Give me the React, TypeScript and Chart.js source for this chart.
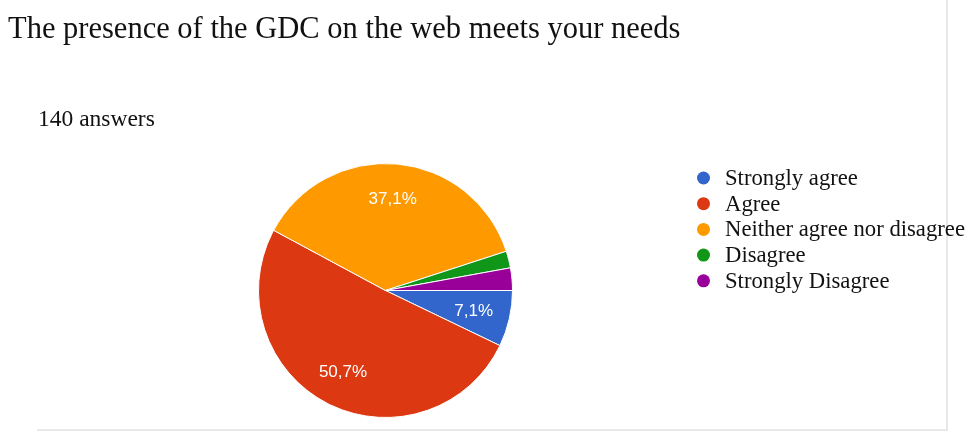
import React, { useEffect, useRef } from "react";
import { Chart, registerables } from "chart.js";

Chart.register(...registerables);

const TITLE = "The presence of the GDC on the web meets your needs";
const SUBTITLE = "140 answers";
const categories = [
  "Strongly agree",
  "Agree",
  "Neither agree nor disagree",
  "Disagree",
  "Strongly Disagree",
];
const counts = [10, 71, 52, 3, 4];
const colors = ["#3366cc", "#dc3912", "#ff9900", "#109618", "#990099"];

const decorPlugin = {
  id: "decor",
  beforeDraw(chart: any) {
    const ctx = chart.ctx;
    ctx.save();
    ctx.fillStyle = "#ffffff";
    ctx.fillRect(0, 0, chart.width, chart.height);
    // frame lines
    ctx.strokeStyle = "#e8e8e8";
    ctx.lineWidth = 2;
    ctx.beginPath();
    ctx.moveTo(947, 0);
    ctx.lineTo(947, 431);
    ctx.moveTo(37, 430);
    ctx.lineTo(948, 430);
    ctx.stroke();
    // title
    ctx.fillStyle = "#111111";
    ctx.textBaseline = "alphabetic";
    ctx.textAlign = "left";
    ctx.font = "30.5px 'Liberation Serif', 'Times New Roman', serif";
    ctx.fillText(TITLE, 8, 38);
    ctx.font = "23.5px 'Liberation Serif', 'Times New Roman', serif";
    ctx.fillText(SUBTITLE, 38, 126);
    ctx.restore();
  },
  afterDraw(chart: any) {
    const ctx = chart.ctx;
    const ds = chart.data.datasets[0];
    const total = ds.data.reduce((a: number, b: number) => a + b, 0);
    const meta = chart.getDatasetMeta(0);
    ctx.save();
    // percentage labels
    ctx.fillStyle = "#ffffff";
    ctx.textAlign = "center";
    ctx.textBaseline = "middle";
    ctx.font = "17px 'Liberation Sans', Arial, sans-serif";
    meta.data.forEach((arc: any, i: number) => {
      const v = ds.data[i];
      const pct = (v / total) * 100;
      if (pct < 5) return;
      const mid = (arc.startAngle + arc.endAngle) / 2;
      const r = arc.outerRadius * 0.72;
      const x = arc.x + Math.cos(mid) * r;
      const y = arc.y + Math.sin(mid) * r;
      ctx.fillText(pct.toFixed(1).replace(".", ",") + "%", x - 1, y);
    });
    // legend
    const labels = chart.data.labels;
    labels.forEach((lab: string, i: number) => {
      const y = 178 + i * 25.7;
      ctx.fillStyle = ds.backgroundColor[i];
      ctx.beginPath();
      ctx.arc(703.5, y, 6.5, 0, Math.PI * 2);
      ctx.fill();
      ctx.fillStyle = "#111111";
      ctx.textAlign = "left";
      ctx.textBaseline = "alphabetic";
      ctx.font = "22.7px 'Liberation Serif', 'Times New Roman', serif";
      ctx.fillText(lab, 725, y + 7);
    });
    ctx.restore();
  },
};

export default function App() {
  const ref = useRef<HTMLCanvasElement>(null);
  useEffect(() => {
    document.body.style.margin = "0";
    const chart = new Chart(ref.current!, {
      type: "pie",
      data: {
        labels: categories,
        datasets: [
          {
            data: counts,
            backgroundColor: colors,
            borderColor: "#ffffff",
            borderWidth: 1,
          },
        ],
      },
      options: {
        animation: false,
        responsive: false,
        rotation: 90,
        layout: { padding: { left: 258, right: 456, top: 163, bottom: 14 } },
        plugins: {
          legend: { display: false },
          tooltip: { enabled: false },
          title: { display: false },
        },
      },
      plugins: [decorPlugin],
    });
    return () => chart.destroy();
  }, []);
  return (
    <div style={{ position: "absolute", left: 0, top: 0, width: 969, height: 432 }}>
      <canvas ref={ref} width={969} height={432} style={{ width: 969, height: 432, display: "block" }} />
    </div>
  );
}
